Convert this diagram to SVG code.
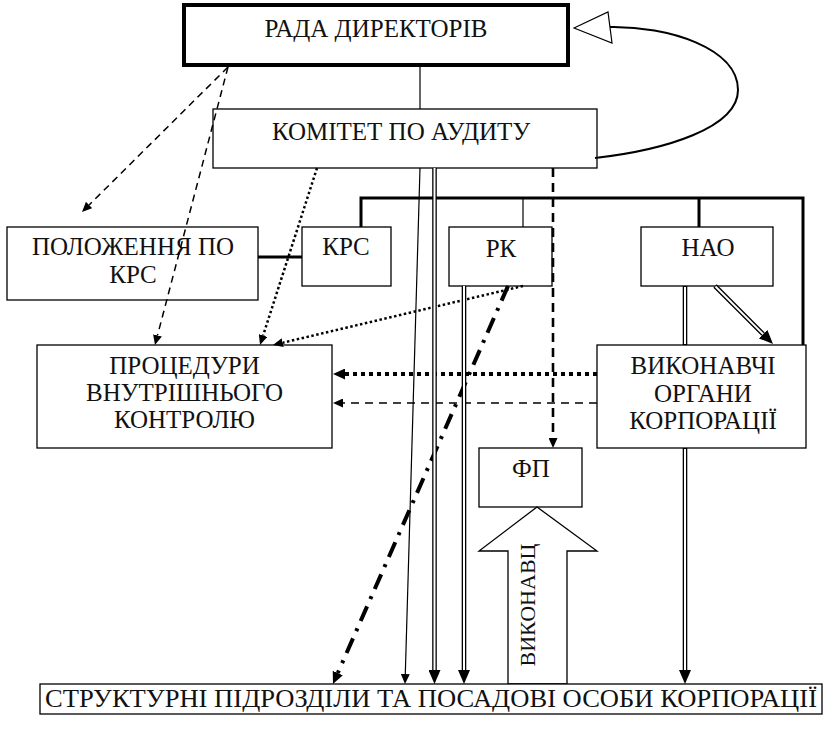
<svg xmlns="http://www.w3.org/2000/svg" width="834" height="729" viewBox="0 0 834 729">
  <style>
    .box { fill: #fff; stroke: #000; stroke-width: 1.3; }
    .boxb { fill: #fff; stroke: #000; stroke-width: 4; }
    .lbl { font-family: "Liberation Serif", "Times New Roman", serif; font-size: 25px; fill: #111; text-anchor: middle; }
    .ln { fill: none; stroke: #000; stroke-width: 1.2; }
    .thick { fill: none; stroke: #000; stroke-width: 3; }
    .dash { fill: none; stroke: #000; stroke-width: 1.5; stroke-dasharray: 7 5; }
    .dashh { fill: none; stroke: #000; stroke-width: 1.5; stroke-dasharray: 8 6; }
    .dashv { fill: none; stroke: #000; stroke-width: 2.6; stroke-dasharray: 9 6; }
    .dot { fill: none; stroke: #000; stroke-width: 2.5; stroke-dasharray: 2.5 2.5; }
    .dotb { fill: none; stroke: #000; stroke-width: 4; stroke-dasharray: 4 4; }
    .dashdot { fill: none; stroke: #000; stroke-width: 4; stroke-dasharray: 16 8 3 8; }
    .dblo { fill: none; stroke: #000; stroke-width: 4.6; }
    .dbli { fill: none; stroke: #fff; stroke-width: 2; }
  </style>
  <defs>
    <marker id="ah" viewBox="0 0 14 12" refX="0" refY="6" markerWidth="14" markerHeight="12" markerUnits="userSpaceOnUse" orient="auto">
      <path d="M0,0 L14,6 L0,12 z" fill="#000"/>
    </marker>
    <marker id="ahm" viewBox="0 0 12 11" refX="0" refY="5.5" markerWidth="12" markerHeight="11" markerUnits="userSpaceOnUse" orient="auto">
      <path d="M0,0 L12,5.5 L0,11 z" fill="#000"/>
    </marker>
    <marker id="ahs" viewBox="0 0 10 9" refX="0" refY="4.5" markerWidth="10" markerHeight="9" markerUnits="userSpaceOnUse" orient="auto">
      <path d="M0,0 L10,4.5 L0,9 z" fill="#000"/>
    </marker>
  </defs>

  <!-- nodes -->
  <g id="rada">
    <rect class="boxb" x="184" y="5" width="384" height="60"/>
    <text class="lbl" x="376" y="37">РАДА ДИРЕКТОРІВ</text>
  </g>
  <g id="komitet">
    <rect class="box" x="213" y="109" width="384" height="59"/>
    <text class="lbl" x="401" y="140">КОМІТЕТ ПО АУДИТУ</text>
  </g>
  <g id="polozhennia">
    <rect class="box" x="7" y="227" width="251" height="73"/>
    <text class="lbl" x="133" y="255">ПОЛОЖЕННЯ ПО</text>
    <text class="lbl" x="133" y="283">КРС</text>
  </g>
  <g id="krs">
    <rect class="box" x="302" y="227" width="89" height="59"/>
    <text class="lbl" x="346" y="255">КРС</text>
  </g>
  <g id="rk">
    <rect class="box" x="449" y="227" width="103" height="59"/>
    <text class="lbl" x="501" y="257">РК</text>
  </g>
  <g id="nao">
    <rect class="box" x="641" y="227" width="132" height="59"/>
    <text class="lbl" x="708" y="256">НАО</text>
  </g>
  <g id="protsedury">
    <rect class="box" x="37" y="345" width="295" height="103"/>
    <text class="lbl" x="184.5" y="374">ПРОЦЕДУРИ</text>
    <text class="lbl" x="184.5" y="401">ВНУТРІШНЬОГО</text>
    <text class="lbl" x="184.5" y="428">КОНТРОЛЮ</text>
  </g>
  <g id="vykonavchi">
    <rect class="box" x="597" y="345" width="209" height="103"/>
    <text class="lbl" x="703" y="374">ВИКОНАВЧІ</text>
    <text class="lbl" x="703" y="402">ОРГАНИ</text>
    <text class="lbl" x="703" y="429">КОРПОРАЦІЇ</text>
  </g>
  <g id="fp">
    <rect class="box" x="479" y="448" width="103" height="59"/>
    <text class="lbl" x="531" y="477">ФП</text>
  </g>
  <g id="vykonavtsi">
    <polygon class="box" points="537,507 597,551 567,551 567,684 508,684 508,551 479,551"/>
    <text class="lbl" transform="translate(535,605) rotate(-90)" style="font-size:22px">ВИКОНАВЦ</text>
  </g>
  <g id="struktury">
    <rect class="box" x="40" y="684" width="782" height="30"/>
    <text class="lbl" x="431" y="707" style="font-size:26px" textLength="772" lengthAdjust="spacingAndGlyphs">СТРУКТУРНІ ПІДРОЗДІЛИ ТА ПОСАДОВІ ОСОБИ КОРПОРАЦІЇ</text>
  </g>

  <!-- connectors -->
  <g id="connectors">
    <!-- solid links -->
    <line class="ln" x1="420" y1="65" x2="420" y2="109"/>
    <path class="thick" d="M361,227 V198 H803 V345"/>
    <line class="ln" x1="523" y1="198" x2="523" y2="227"/>
    <line class="thick" x1="699" y1="198" x2="699" y2="227"/>
    <line class="thick" x1="258" y1="257" x2="302" y2="257"/>

    <!-- feedback loop from the audit committee to the board -->
    <path d="M595,158 C665,150 738,128 738,90 C738,48 668,26 610,27" fill="none" stroke="#000" stroke-width="2"/>
    <polygon points="574,28 608,12 612,43" fill="#fff" stroke="#000" stroke-width="1.2"/>

    <!-- dashed from the board -->
    <line class="dash" x1="228" y1="67" x2="89.1" y2="205" marker-end="url(#ahs)"/>
    <line class="dash" x1="228" y1="67" x2="157.5" y2="335.3" marker-end="url(#ahs)"/>

    <!-- dotted to internal control procedures -->
    <line class="dot" x1="317" y1="168" x2="263.1" y2="335.5" marker-end="url(#ahs)"/>
    <line class="dot" x1="523" y1="286" x2="282.7" y2="342.7" marker-end="url(#ahs)"/>
    <line class="dotb" x1="597" y1="374" x2="345" y2="374" marker-end="url(#ahm)"/>
    <line class="dashh" x1="597" y1="403" x2="343" y2="403" marker-end="url(#ahs)"/>

    <!-- dashed vertical to ФП -->
    <line class="dashv" x1="553" y1="168" x2="553" y2="438" marker-end="url(#ahs)"/>

    <!-- dash-dot from РК -->
    <line class="dashdot" x1="508" y1="286" x2="337.8" y2="673" marker-end="url(#ahm)"/>

    <!-- thin line from the committee -->
    <line class="ln" x1="420" y1="168" x2="405.3" y2="674" marker-end="url(#ahs)"/>

    <!-- double lines -->
    <line class="dblo" x1="434.5" y1="168" x2="434.5" y2="670" marker-end="url(#ah)"/>
    <line class="dbli" x1="434.5" y1="168" x2="434.5" y2="670"/>
    <line class="dblo" x1="464" y1="286" x2="464" y2="670" marker-end="url(#ah)"/>
    <line class="dbli" x1="464" y1="286" x2="464" y2="670"/>
    <line class="dblo" x1="685" y1="448" x2="685" y2="670" marker-end="url(#ah)"/>
    <line class="dbli" x1="685" y1="449" x2="685" y2="670"/>
    <line class="dblo" x1="685" y1="286" x2="685" y2="345"/>
    <line class="dbli" x1="685" y1="287" x2="685" y2="344"/>
    <line class="dblo" x1="715" y1="286" x2="763.1" y2="334.1" marker-end="url(#ah)"/>
    <line class="dbli" x1="715.5" y1="286.5" x2="763.1" y2="334.1"/>
  </g>
</svg>
